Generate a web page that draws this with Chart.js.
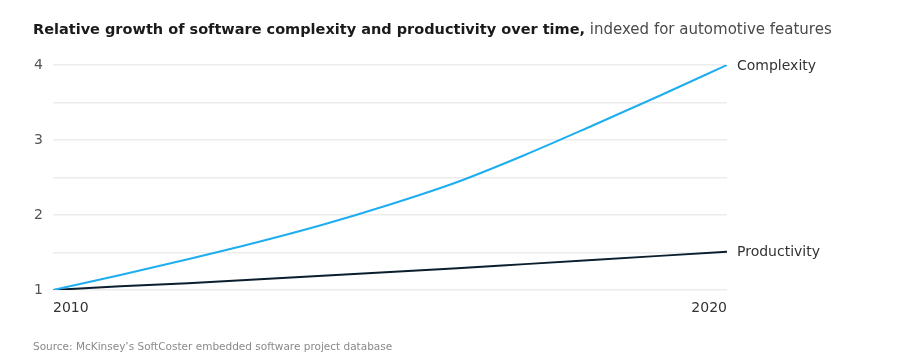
<!DOCTYPE html>
<html>
<head>
<meta charset="utf-8">
<script src="https://cdn.jsdelivr.net/npm/chart.js@4"></script>
<style>
  html, body { margin: 0; padding: 0; background: #fff; }
  canvas { display: block; }
</style>
</head>
<body>
<canvas id="chart" width="900" height="364"></canvas>
<script>
// data
const years = [2010, 2011, 2012, 2013, 2014, 2015, 2016, 2017, 2018, 2019, 2020];
const complexity = [1.0, 1.2, 1.41, 1.63, 1.87, 2.14, 2.44, 2.8, 3.19, 3.59, 4.0];
const productivity = [1.0, 1.05, 1.09, 1.14, 1.19, 1.24, 1.29, 1.345, 1.4, 1.455, 1.51];
const seriesNames = ['Complexity', 'Productivity'];
const xTicks = [2010, 2020];

const titleBold = 'Relative growth of software complexity and productivity over time,';
const titleRest = ' indexed for automotive features';
const sourceText = 'Source: McKinsey\u2019s SoftCoster embedded software project database';

const FONT = '"DejaVu Sans", "Liberation Sans", sans-serif';

const toPoints = (vals) => vals.map((v, i) => ({ x: years[i], y: v }));

// title, end labels and source drawn on the canvas
const annotations = {
    id: 'annotations',
    afterDraw(chart) {
        const ctx = chart.ctx;
        ctx.save();
        ctx.textBaseline = 'alphabetic';
        ctx.textAlign = 'left';
        ctx.font = 'bold 14.5px ' + FONT;
        ctx.fillStyle = '#1a1a1a';
        ctx.fillText(titleBold, 33, 34);
        const w = ctx.measureText(titleBold).width;
        ctx.font = '15px ' + FONT;
        ctx.fillStyle = '#4a4a4a';
        ctx.fillText(titleRest, 33 + w, 34);

        ctx.font = '14px ' + FONT;
        ctx.fillStyle = '#333';
        ctx.textBaseline = 'middle';
        const x = chart.chartArea.right + 10;
        chart.data.datasets.forEach((ds) => {
            const last = ds.data[ds.data.length - 1];
            const y = chart.scales.y.getPixelForValue(last.y);
            ctx.fillText(ds.label, x, y + 1);
        });

        ctx.font = '10.5px ' + FONT;
        ctx.fillStyle = '#8a8a8a';
        ctx.textBaseline = 'alphabetic';
        ctx.fillText(sourceText, 33, 350);
        ctx.restore();
    }
};

new Chart(document.getElementById('chart'), {
    type: 'line',
    data: {
        datasets: [
            {
                label: seriesNames[0],
                data: toPoints(complexity),
                borderColor: '#1eaef0',
                borderWidth: 2,
                pointRadius: 0,
                cubicInterpolationMode: 'monotone'
            },
            {
                label: seriesNames[1],
                data: toPoints(productivity),
                borderColor: '#0b1e2d',
                borderWidth: 2,
                pointRadius: 0,
                cubicInterpolationMode: 'monotone'
            }
        ]
    },
    options: {
        responsive: false,
        animation: false,
        devicePixelRatio: 1,
        layout: { padding: { top: 65, right: 173, bottom: 0, left: 0 } },
        plugins: {
            legend: { display: false },
            tooltip: { enabled: false }
        },
        scales: {
            x: {
                type: 'linear',
                min: 2010,
                max: 2020,
                afterBuildTicks: (scale) => {
                    scale.ticks = xTicks.map((v) => ({ value: v }));
                },
                afterFit: (scale) => { scale.height = 74; },
                grid: { display: false },
                border: { display: false },
                ticks: {
                    align: 'inner',
                    padding: 2,
                    color: '#333',
                    font: { family: FONT, size: 14 },
                    callback: (v) => String(v)
                }
            },
            y: {
                min: 1,
                max: 4,
                afterFit: (scale) => { scale.width = 53; },
                grid: { color: '#ececec', lineWidth: 1.5, drawTicks: false },
                border: { display: false },
                ticks: {
                    stepSize: 0.5,
                    padding: 10,
                    color: '#555',
                    font: { family: FONT, size: 14 },
                    callback: (v) => Number.isInteger(v) ? String(v) : ''
                }
            }
        }
    },
    plugins: [annotations]
});
</script>
</body>
</html>
